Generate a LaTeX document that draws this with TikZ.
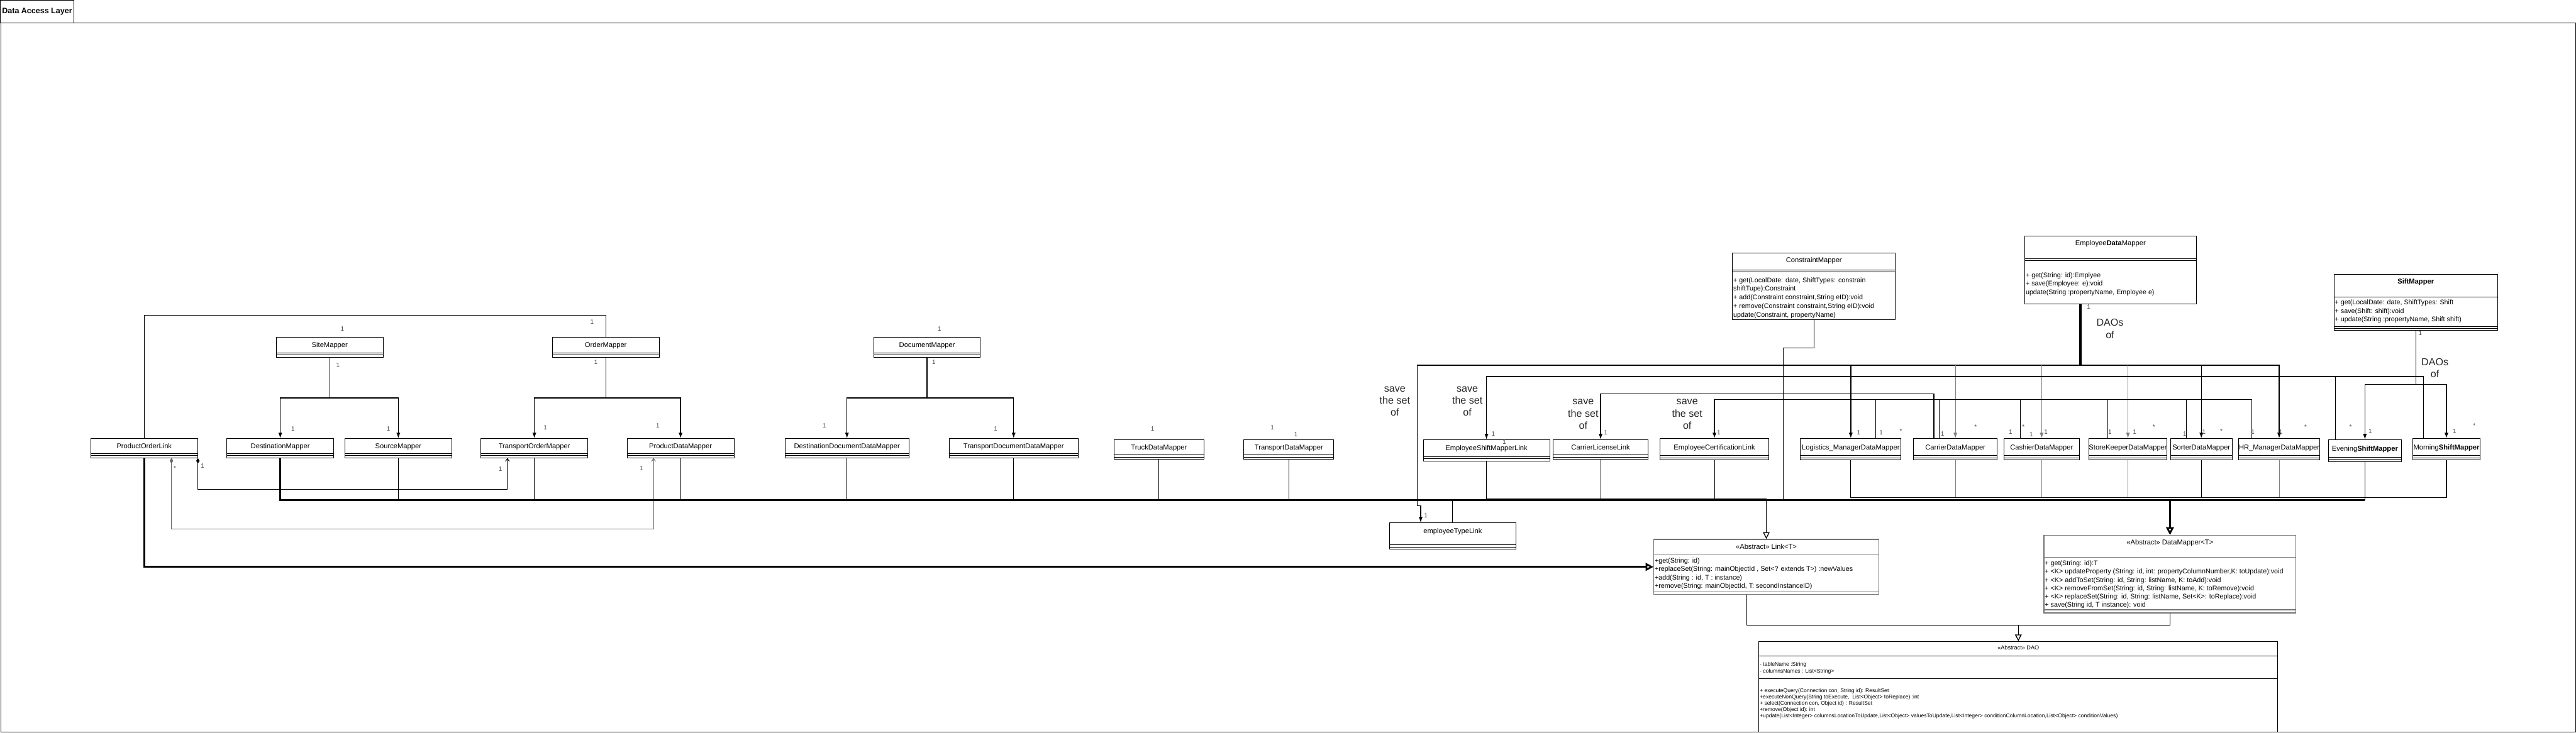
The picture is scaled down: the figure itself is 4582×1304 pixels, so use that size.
\documentclass[tikz,border=0pt]{standalone}
\usepackage{fontspec}
\setmainfont{Liberation Sans}
\usetikzlibrary{arrows.meta,positioning}

\begin{document}
\begin{tikzpicture}[
    x=1pt,y=-1pt,
    cls/.style={rectangle,draw,line width=1pt,minimum height=#1,inner sep=0pt,
                font=\fontsize{12.5}{15}\selectfont,text height=9pt,text depth=8pt,
                path picture={\draw[line width=1pt]
                  ([yshift=8pt]path picture bounding box.south west) -- ([yshift=8pt]path picture bounding box.south east)
                  ([yshift=4pt]path picture bounding box.south west) -- ([yshift=4pt]path picture bounding box.south east);}},
    cls/.default=34pt,
    ucls/.style={rectangle,draw,line width=1pt,inner sep=0pt,anchor=north west},
    cname/.style={font=\fontsize{12.5}{15}\selectfont,inner sep=0pt},
    ops/.style={font=\fontsize{12}{15.5}\selectfont,align=left,inner sep=0pt,anchor=north west},
    dops/.style={ops,font=\fontsize{9.6}{11.3}\selectfont},
    cline/.style={line width=1pt},
    conn/.style={line width=1.2pt},
    gconn/.style={line width=1.2pt,draw=black!50},
    arr/.style={line width=1.5pt,-{Latex[length=10pt,width=7pt]}},
    gen/.style={line width=1.5pt,-{Triangle[open,length=12pt,width=12pt]}},
    bus/.style={line width=3pt},
    comp/.style={line width=1.2pt,{Diamond[length=10pt,width=6pt]}-{Straight Barb[length=5pt,width=7pt]}},
    mult/.style={font=\fontsize{11}{13}\selectfont,text=black!75,inner sep=0pt},
    remark/.style={font=\fontsize{18}{21.5}\selectfont,align=center,inner sep=0pt,text=black!85}
  ]
    \useasboundingbox (0,0) rectangle (4582,1304);

    % layer frame
    \node[draw,line width=1.5pt,anchor=north west,minimum width=4580pt,minimum height=1262pt,inner sep=0pt] (layer) at (1,40) {};
    \node[draw,line width=1pt,anchor=north west,minimum width=131pt,minimum height=40pt,inner sep=0pt,
          font=\bfseries\fontsize{14}{16}\selectfont] (tab) at (0,0) {Data Access Layer};

    % transport side mappers
    \node[cls=35pt,minimum width=190pt,anchor=north west] (site) at (491,600) {SiteMapper};
    \node[cls=35pt,minimum width=190pt,right=300pt of site] (order) {OrderMapper};
    \node[cls=35pt,minimum width=189pt,right=381pt of order] (doc) {DocumentMapper};

    \node[cls,minimum width=190pt,anchor=north west] (pol) at (161,780) {ProductOrderLink};
    \node[cls,minimum width=190pt,right=51pt of pol] (destm) {DestinationMapper};
    \node[cls,minimum width=190pt,right=19pt of destm] (srcm) {SourceMapper};
    \node[cls,minimum width=190pt,right=51pt of srcm] (tom) {TransportOrderMapper};
    \node[cls,minimum width=190pt,right=69pt of tom] (pdm) {ProductDataMapper};
    \node[cls,minimum width=220pt,right=90pt of pdm] (ddm) {DestinationDocumentDataMapper};
    \node[cls,minimum width=229pt,right=71pt of ddm] (tddm) {TransportDocumentDataMapper};
    \node[cls=35pt,minimum width=160pt,anchor=north west] (truck) at (1981,782) {TruckDataMapper};
    \node[cls=35pt,minimum width=160pt,right=70pt of truck] (tdm) {TransportDataMapper};

    % employee side mappers
    \node[cls=38pt,minimum width=225pt,anchor=north west] (esml) at (2531,782) {EmployeeShiftMapperLink};
    \node[cls=35pt,minimum width=169pt,anchor=north west] (cll) at (2762,782) {CarrierLicenseLink};
    \node[cls=38pt,minimum width=194pt,anchor=north west] (ecl) at (2952,780) {EmployeeCertificationLink};
    \node[cls=38pt,minimum width=179pt,anchor=north west] (lmdm) at (3202,780) {Logistics\_ManagerDataMapper};
    \node[cls=38pt,minimum width=149pt,right=21pt of lmdm] (cdm) {CarrierDataMapper};
    \node[cls=38pt,minimum width=134pt,right=11pt of cdm] (cashm) {CashierDataMapper};
    \node[cls=38pt,minimum width=139pt,right=16pt of cashm] (skdm) {StoreKeeperDataMapper};
    \node[cls=38pt,minimum width=110pt,right=5pt of skdm] (sodm) {SorterDataMapper};
    \node[cls=38pt,minimum width=145pt,right=10pt of sodm] (hrdm) {HR\_ManagerDataMapper};
    \node[cls=39pt,minimum width=130pt,anchor=north west] (esm) at (4141,782) {Evening\textbf{ShiftMapper}};
    \node[cls=38pt,minimum width=120pt,anchor=north west] (msm) at (4291,780) {Morning\textbf{ShiftMapper}};
    \node[cls=47pt,minimum width=225pt,text depth=19pt,anchor=north west] (etl) at (2471,930) {employeeTypeLink};

    % ConstraintMapper
    \node[ucls,minimum width=290pt,minimum height=118pt] (cons) at (3081,450) {};
    \node[cname] (consname) at ([yshift=-14pt]cons.north) {ConstraintMapper};
    \draw[cline] ([yshift=-30pt]cons.north west) -- ([yshift=-30pt]cons.north east)
                 ([yshift=-34pt]cons.north west) -- ([yshift=-34pt]cons.north east);
    \node[ops] (consops) at ([shift={(2pt,-43.5pt)}]cons.north west)
      {+ get(LocalDate: date, ShiftTypes: constrain\\shiftTupe):Constraint\\+ add(Constraint constraint,String eID):void\\
       + remove(Constraint constraint,String eID):void\\update(Constraint, propertyName)};

    % EmployeeDataMapper
    \node[ucls,minimum width=305pt,minimum height=120pt] (edm) at (3601,420) {};
    \node[cname] (edmname) at ([yshift=-14pt]edm.north) {Employee\textbf{Data}Mapper};
    \draw[cline] ([yshift=-40pt]edm.north west) -- ([yshift=-40pt]edm.north east)
                 ([yshift=-44pt]edm.north west) -- ([yshift=-44pt]edm.north east);
    \node[ops] (edmops) at ([shift={(2pt,-64.5pt)}]edm.north west)
      {+ get(String: id):Emplyee\\+ save(Employee: e):void\\update(String :propertyName, Employee e)};

    % SiftMapper
    \node[ucls,minimum width=291pt,minimum height=99pt] (sift) at (4151,488) {};
    \node[cname,font=\bfseries\fontsize{12.5}{15}\selectfont] (siftname) at ([yshift=-14pt]sift.north) {SiftMapper};
    \draw[cline] ([yshift=-40pt]sift.north west) -- ([yshift=-40pt]sift.north east)
                 ([yshift=-93pt]sift.north west) -- ([yshift=-93pt]sift.north east)
                 ([yshift=-96pt]sift.north west) -- ([yshift=-96pt]sift.north east);
    \node[ops,font=\fontsize{12}{15}\selectfont] (siftops) at ([shift={(2pt,-45.5pt)}]sift.north west)
      {+ get(LocalDate: date, ShiftTypes: Shift\\+ save(Shift: shift):void\\+ update(String :propertyName, Shift shift)};

    % abstract Link
    \node[ucls,draw=black!55,line width=1.5pt,minimum width=400pt,minimum height=98pt] (link) at (2941,959) {};
    \node[cname] (linkname) at ([yshift=-14pt]link.north) {<<Abstract>> Link<T>};
    \draw[cline,draw=black!55,line width=1.5pt] ([yshift=-27pt]link.north west) -- ([yshift=-27pt]link.north east)
                 ([yshift=-94pt]link.north west) -- ([yshift=-94pt]link.north east);
    \node[ops,font=\fontsize{12}{15}\selectfont] (linkops) at ([shift={(2pt,-33.5pt)}]link.north west)
      {+get(String: id)\\+replaceSet(String: mainObjectId , Set<? extends T>) :newValues\\+add(String : id, T : instance)\\
       +remove(String: mainObjectId, T: secondInstanceID)};

    % abstract DataMapper
    \node[ucls,draw=black!55,line width=1.5pt,minimum width=448pt,minimum height=138pt] (dmap) at (3635,952) {};
    \node[cname] (dmapname) at ([yshift=-14pt]dmap.north) {<<Abstract>> DataMapper<T>};
    \draw[cline,draw=black!55,line width=1.5pt] ([yshift=-40pt]dmap.north west) -- ([yshift=-40pt]dmap.north east)
                 ([yshift=-133pt]dmap.north west) -- ([yshift=-133pt]dmap.north east);
    \node[ops,font=\fontsize{12}{14.8}\selectfont] (dmapops) at ([shift={(2pt,-45.5pt)}]dmap.north west)
      {+ get(String: id):T\\+ <K> updateProperty (String: id, int: propertyColumnNumber,K: toUpdate):void\\
       + <K> addToSet(String: id, String: listName, K: toAdd):void\\+ <K> removeFromSet(String: id, String: listName, K: toRemove):void\\
       + <K> replaceSet(String: id, String: listName, Set<K>: toReplace):void\\+ save(String id, T instance): void};

    % abstract DAO
    \node[ucls,minimum width=923pt,minimum height=161pt] (dao) at (3128,1141) {};
    \node[cname,font=\fontsize{10.2}{12}\selectfont] (daoname) at ([yshift=-11pt]dao.north) {<<Abstract>> DAO};
    \draw[cline] ([yshift=-26pt]dao.north west) -- ([yshift=-26pt]dao.north east)
                 ([yshift=-66pt]dao.north west) -- ([yshift=-66pt]dao.north east);
    \node[dops] (daoattr) at ([shift={(2pt,-37.5pt)}]dao.north west)
      {- tableName :String\\- columnsNames : List<String>};
    \node[dops] (daoops) at ([shift={(2pt,-83.5pt)}]dao.north west)
      {+ executeQuery(Connection con, String id): ResultSet\\+executeNonQuery(String toExecute,\ \ List<Object> toReplace) :int\\
       + select(Connection con, Object id) : ResultSet\\+remove(Object id): int\\
       +update(List<Integer> columnsLocationToUpdate,List<Object> valuesToUpdate,List<Integer> conditionColumnLocation,List<Object> conditionValues)};

    % routing levels and joints
    \coordinate (ytop) at (0,561);
    \coordinate (yset) at (0,670);
    \coordinate (ylic) at (0,701);
    \coordinate (ycert) at (0,711);
    \coordinate (yemp) at (0,885);
    \coordinate (ylink) at (0,888);
    \coordinate (ybus) at (0,890);
    \coordinate (ydao) at (0,1112);
    \coordinate (eleft) at (2521,650);
    \coordinate (consjoin) at (3172,890);
    \coordinate (busend) at (dmap.north |- ybus);
    \coordinate (linkjoin) at (link.north |- ylink);
    \coordinate (daojoin) at (dao.north |- ydao);
    \coordinate (msmL) at ([xshift=20pt]msm.north west);
    \coordinate (esmL) at ([xshift=13pt]esm.north west);
    \coordinate (cdmL) at ([xshift=37pt]cdm.north west);
    \coordinate (cdmM) at ([xshift=46pt]cdm.north west);
    \coordinate (hrdmL) at ([xshift=24pt]hrdm.north west);
    \coordinate (lmdmR) at ([xshift=134pt]lmdm.north west);
    \coordinate (cashmL) at ([xshift=30pt]cashm.north west);
    \coordinate (skdmL) at ([xshift=34pt]skdm.north west);
    \coordinate (sodmL) at ([xshift=29pt]sodm.north west);

    % transport associations
    \draw[conn] (pol.north) |- (order.north |- ytop) -- (order.north);
    \draw[arr] (site.south) -- ++(0,72) -| (destm.north);
    \draw[arr] (site.south) -- ++(0,72) -| (srcm.north);
    \draw[arr] (order.south) -- ++(0,72) -| (tom.north);
    \draw[arr] (order.south) -- ++(0,72) -| (pdm.north);
    \draw[arr] (doc.south) -- ++(0,72) -| (ddm.north);
    \draw[arr] (doc.south) -- ++(0,72) -| (tddm.north);
    \draw[comp] (pol.south east) -- ++(0,56) -| ([xshift=-48pt]tom.south);
    \draw[comp,draw=black!60] ([xshift=-47pt]pol.south east) -- ++(0,126) -| ([xshift=-48pt]pdm.south);

    % inheritance buses
    \draw[bus,-{Triangle[open,length=14pt,width=14pt]}] (pol.south) |- (link.west);
    \draw[bus] (destm.south) |- (busend);
    \draw[conn] (srcm.south) -- (srcm.south |- ybus);
    \draw[conn] (tom.south) -- (tom.south |- ybus);
    \draw[conn] (pdm.south) -- (pdm.south |- ybus);
    \draw[conn] (ddm.south) -- (ddm.south |- ybus);
    \draw[conn] (tddm.south) -- (tddm.south |- ybus);
    \draw[conn] (truck.south) -- (truck.south |- ybus);
    \draw[conn] (tdm.south) -- (tdm.south |- ybus);
    \draw[conn] (cons.south) -- ++(0,50) -| (consjoin);
    \draw[bus] (busend) -- (esm.south |- ybus);
    \draw[conn] (esm.south) -- (esm.south |- ybus);
    \draw[conn] (lmdm.south) |- (msm.south |- yemp) -- (msm.south);
    \draw[gconn] (cdm.south) -- (cdm.south |- yemp);
    \draw[gconn] (cashm.south) -- (cashm.south |- yemp);
    \draw[gconn] (skdm.south) -- (skdm.south |- yemp);
    \draw[conn] (sodm.south) -- (sodm.south |- yemp);
    \draw[gconn] (hrdm.south) -- (hrdm.south |- yemp);
    \draw[bus,-{Triangle[open,length=14pt,width=14pt]}] (busend) -- (dmap.north);
    \draw[conn] (esml.south) |- (linkjoin);
    \draw[conn] (cll.south) -- (cll.south |- ylink);
    \draw[conn] (ecl.south) -- (ecl.south |- ylink);
    \draw[conn] (etl.north) -- (etl.north |- ylink);
    \draw[gen] (linkjoin) -- (link.north);
    \draw[conn] ([xshift=-35pt]link.south) |- (daojoin);
    \draw[conn] (dmap.south) |- (daojoin);
    \draw[gen] (daojoin) -- (dao.north);

    % employee associations
    \draw[arr] ([xshift=-54.5pt]edm.south) |- (eleft) -- ++(0,250) -| ([xshift=-57pt]etl.north);
    \draw[arr] ([xshift=-52.5pt]edm.south) |- (eleft -| hrdm.north) -- (hrdm.north);
    \draw[arr] (eleft -| lmdm.north) -- (lmdm.north);
    \draw[gconn,-{Latex[length=10pt,width=7pt]}] (eleft -| cdm.north) -- (cdm.north);
    \draw[gconn,-{Latex[length=10pt,width=7pt]}] (eleft -| cashm.north) -- (cashm.north);
    \draw[gconn,-{Latex[length=10pt,width=7pt]}] (eleft -| skdm.north) -- (skdm.north);
    \draw[arr] (eleft -| sodm.north) -- (sodm.north);
    \draw[arr] (msmL) |- (esml.north |- yset) -- (esml.north);
    \draw[conn] (esmL) -- (esmL |- yset);
    \draw[arr] (cdmL) |- (cll.north |- ylic) -- (cll.north);
    \draw[arr] (hrdmL) |- (ecl.north |- ycert) -- (ecl.north);
    \draw[conn] (lmdmR) -- (lmdmR |- ycert);
    \draw[conn] (cdmM) -- (cdmM |- ycert);
    \draw[conn] (cashmL) -- (cashmL |- ycert);
    \draw[conn] (skdmL) -- (skdmL |- ycert);
    \draw[conn] (sodmL) -- (sodmL |- ycert);
    \draw[arr] (sift.south) -- ++(0,96) -| (esm.north);
    \draw[arr] (sift.south) -- ++(0,96) -| (msm.north);

    % notes
    \node[remark] (save1) at (2481,714) {save\\the set\\of};
    \node[remark] (save2) at (2610,714) {save\\the set\\of};
    \node[remark] (save3) at (2816,737) {save\\the set\\of};
    \node[remark] (save4) at (3001,737) {save\\the set\\of};
    \node[remark] (daos1) at (3753,585) {DAOs\\of};
    \node[remark] (daos2) at (4331,655) {DAOs\\of};

    % multiplicities
    \node[mult] (m1) at (609,585) {1};    \node[mult] (m2) at (1053,573) {1};
    \node[mult] (m3) at (601,650) {1};    \node[mult] (m4) at (1060,645) {1};
    \node[mult] (m5) at (521,763) {1};    \node[mult] (m6) at (691,763) {1};
    \node[mult] (m7) at (970,761) {1};    \node[mult] (m8) at (1170,758) {1};
    \node[mult] (m9) at (311,833) {*};    \node[mult] (m10) at (360,829) {1};
    \node[mult] (m11) at (890,835) {1};   \node[mult] (m12) at (1141,833) {1};
    \node[mult] (m13) at (1671,585) {1};  \node[mult] (m14) at (1661,645) {1};
    \node[mult] (m15) at (1466,758) {1};  \node[mult] (m16) at (1771,763) {1};
    \node[mult] (m17) at (2050,763) {1};  \node[mult] (m18) at (2263,761) {1};
    \node[mult] (m19) at (2305,773) {1};  \node[mult] (m20) at (2536,917) {1};
    \node[mult] (m21) at (2656,772) {1};  \node[mult] (m22) at (2676,787) {1};
    \node[mult] (m23) at (2856,770) {1};  \node[mult] (m24) at (3057,770) {1};
    \node[mult] (m25) at (3306,770) {1};  \node[mult] (m26) at (3346,770) {1};
    \node[mult] (m27) at (3381,768) {*};  \node[mult] (m28) at (3455,772) {1};
    \node[mult] (m29) at (3514,760) {*};  \node[mult] (m30) at (3576,769) {1};
    \node[mult] (m31) at (3599,760) {*};  \node[mult] (m32) at (3613,773) {1};
    \node[mult] (m33) at (3639,769) {1};  \node[mult] (m34) at (3753,769) {1};
    \node[mult] (m35) at (3797,769) {1};  \node[mult] (m36) at (3831,760) {*};
    \node[mult] (m37) at (3886,772) {1};  \node[mult] (m38) at (3920,769) {1};
    \node[mult] (m39) at (3951,767) {*};  \node[mult] (m40) at (4007,769) {1};
    \node[mult] (m41) at (4057,769) {1};  \node[mult] (m42) at (4101,760) {*};
    \node[mult] (m43) at (4181,760) {*};  \node[mult] (m44) at (4216,767) {1};
    \node[mult] (m45) at (4366,767) {1};  \node[mult] (m46) at (4401,757) {*};
    \node[mult] (m47) at (3715,546) {1};  \node[mult] (m48) at (4305,593) {1};
  \end{tikzpicture}
\end{document}
